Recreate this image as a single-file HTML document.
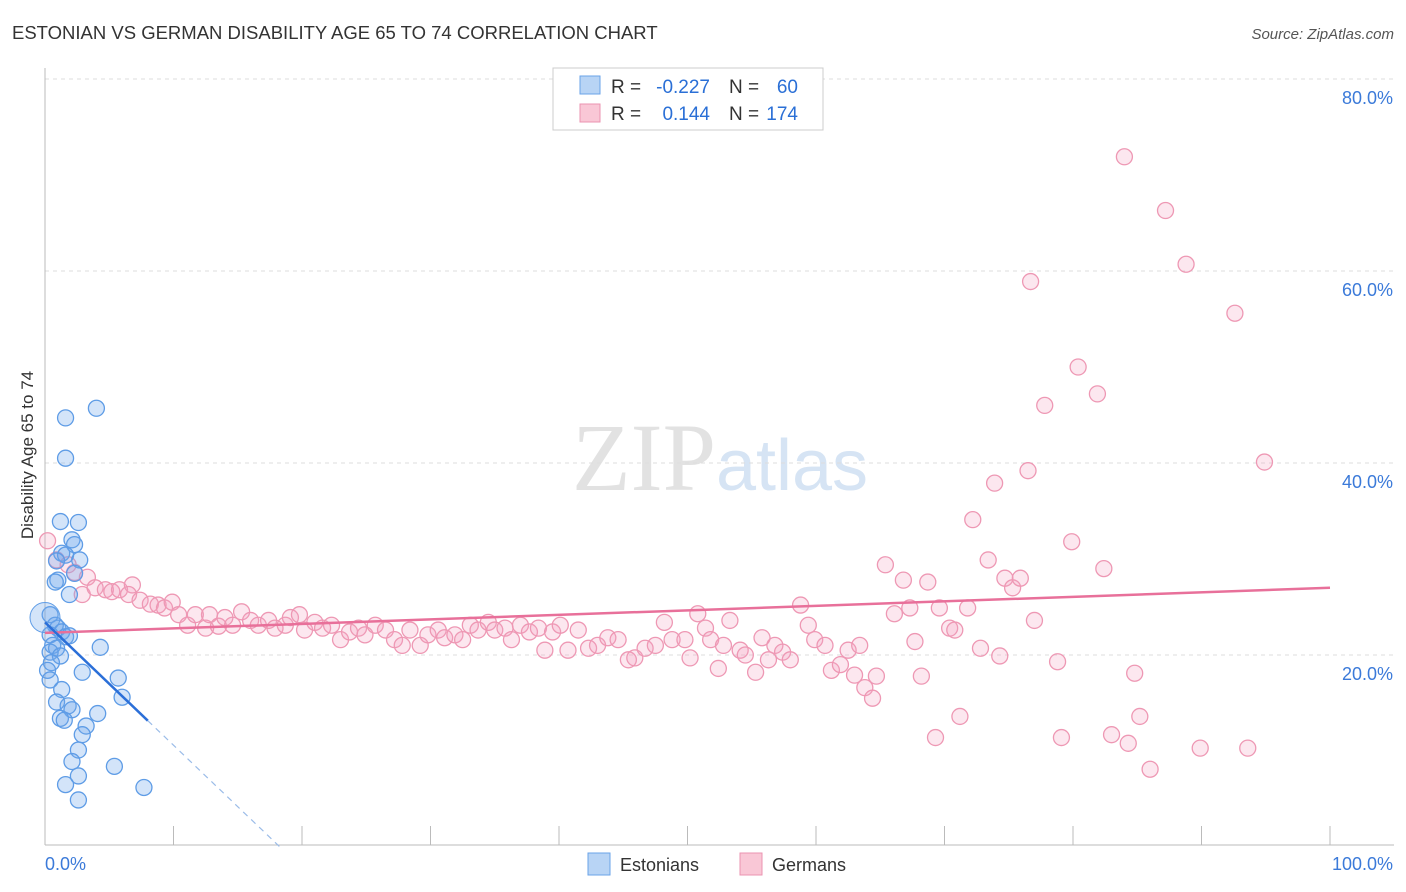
<!DOCTYPE html>
<html><head><meta charset="utf-8">
<style>
body{margin:0;background:#fff;font-family:"Liberation Sans",sans-serif;}
#wrap{position:relative;width:1406px;height:892px;overflow:hidden;}
</style></head>
<body>
<div id="wrap">
<svg id="svg" width="1406" height="892" xmlns="http://www.w3.org/2000/svg">
<text x="12" y="39" font-size="18.5" fill="#333">ESTONIAN VS GERMAN DISABILITY AGE 65 TO 74 CORRELATION CHART</text>
<text x="1394" y="39" font-size="15" fill="#555" font-style="italic" text-anchor="end">Source: ZipAtlas.com</text>
<text x="720" y="490" font-size="96" fill="#e2e2e2" text-anchor="middle" font-family="Liberation Serif">ZIP<tspan fill="#d6e4f4" font-family="Liberation Sans" font-size="72">atlas</tspan></text>
<g id="grid"></g>
<g id="marks"></g>
<text transform="translate(33,455) rotate(-90)" font-size="17" fill="#333" text-anchor="middle">Disability Age 65 to 74</text>
<g>
<rect x="553" y="68" width="270" height="62" fill="#fff" stroke="#ccc"/>
<rect x="580" y="76" width="20" height="18" fill="#b8d4f5" stroke="#6aa3e8"/>
<text x="611" y="93" font-size="19" fill="#333">R =</text>
<text x="710" y="93" font-size="19" fill="#2a6fd6" text-anchor="end">-0.227</text>
<text x="729" y="93" font-size="19" fill="#333">N =</text>
<text x="798" y="93" font-size="19" fill="#2a6fd6" text-anchor="end">60</text>
<rect x="580" y="104" width="20" height="18" fill="#f9c7d6" stroke="#eb93b0"/>
<text x="611" y="120" font-size="19" fill="#333">R =</text>
<text x="710" y="120" font-size="19" fill="#2a6fd6" text-anchor="end">0.144</text>
<text x="729" y="120" font-size="19" fill="#333">N =</text>
<text x="798" y="120" font-size="19" fill="#2a6fd6" text-anchor="end">174</text>
</g>
<g>
<rect x="588" y="853" width="22" height="22" fill="#b8d4f5" stroke="#6aa3e8"/>
<text x="620" y="871" font-size="18" fill="#333">Estonians</text>
<rect x="740" y="853" width="22" height="22" fill="#f9c7d6" stroke="#eb93b0"/>
<text x="772" y="871" font-size="18" fill="#333">Germans</text>
</g>
</svg>
</div>
<script>
const yTicks=[20,40,60,80];
const xTickLabels=["0.0%","100.0%"];
const estX=[4.0,1.6,1.6,1.2,2.6,2.1,2.3,1.3,1.6,2.7,0.9,2.3,1.0,0.8,1.9,0.4,0.8,1.0,1.3,0.4,1.6,1.9,0.6,0.9,4.3,0.4,1.2,0.5,0.2,2.9,0.4,5.7,1.3,6.0,0.9,1.8,2.1,4.1,1.2,1.5,3.2,2.9,2.6,2.1,5.4,2.6,1.6,2.6,7.7];
const estY=[45.7,44.7,40.5,33.9,33.8,32.0,31.5,30.6,30.4,29.9,29.8,28.5,27.8,27.6,26.3,24.2,23.1,22.8,22.4,22.1,21.9,22.0,21.0,20.7,20.8,20.3,19.9,19.2,18.4,18.2,17.4,17.6,16.4,15.6,15.1,14.7,14.3,13.9,13.4,13.2,12.6,11.7,10.1,8.9,8.4,7.4,6.5,4.9,6.2];
const gerX=[0.2,0.9,1.8,2.3,3.3,2.9,3.9,4.7,5.2,5.8,6.8,6.5,7.4,8.2,8.8,9.3,9.9,10.4,11.1,11.7,12.5,12.8,13.5,14.0,14.6,15.3,16.0,16.6,17.4,17.9,18.7,19.1,19.8,20.2,21.0,21.6,22.3,23.0,23.7,24.4,24.9,25.7,26.5,27.2,27.8,28.4,29.2,29.8,30.6,31.1,31.9,32.5,33.1,33.7,34.5,35.0,35.8,36.3,37.0,37.7,38.4,38.9,39.5,40.1,40.7,41.5,42.3,43.0,43.8,44.6,45.4,45.9,46.7,47.5,48.2,48.8,49.8,50.2,50.8,51.4,51.8,52.4,52.8,53.3,54.1,54.5,55.3,55.8,56.3,56.8,57.4,58.0,58.8,59.4,59.9,60.7,61.2,61.9,62.5,63.0,63.4,63.8,64.4,64.7,65.4,66.1,66.8,67.3,67.7,68.2,68.7,69.3,69.6,70.4,70.8,71.2,71.8,72.2,72.8,73.4,73.9,74.3,74.7,75.3,75.9,76.5,76.7,77.0,77.8,78.8,79.1,79.9,80.4,81.9,82.4,83.0,84.0,84.3,84.8,85.2,86.0,87.2,88.8,89.9,92.6,93.6,94.9];
const gerY=[31.9,29.9,29.4,28.6,28.1,26.3,27.0,26.8,26.6,26.8,27.3,26.3,25.7,25.3,25.2,24.9,25.5,24.2,23.1,24.2,22.8,24.2,23.0,23.9,23.1,24.5,23.6,23.1,23.6,22.8,23.1,23.9,24.2,22.6,23.4,22.8,23.1,21.6,22.4,22.8,22.1,23.1,22.6,21.6,21.0,22.6,21.0,22.1,22.6,21.8,22.1,21.6,23.1,22.6,23.4,22.6,22.8,21.6,23.1,22.4,22.8,20.5,22.4,23.1,20.5,22.6,20.7,21.0,21.8,21.6,19.5,19.7,20.7,21.0,23.4,21.6,21.6,19.7,24.3,22.8,21.6,18.6,21.0,23.6,20.5,20.0,18.2,21.8,19.5,21.0,20.3,19.5,25.2,23.1,21.6,21.0,18.4,19.0,20.5,17.9,21.0,16.6,15.5,17.8,29.4,24.3,27.8,24.9,21.4,17.8,27.6,11.4,24.9,22.8,22.6,13.6,24.9,34.1,20.7,29.9,37.9,19.9,28.0,27.0,28.0,39.2,58.9,23.6,46.0,19.3,11.4,31.8,50.0,47.2,29.0,11.7,71.9,10.8,18.1,13.6,8.1,66.3,60.7,10.3,55.6,10.3,40.1];
const estTrend=[23.4,-1.28];
const gerTrend=[22.3,0.047];

const X0=45,X1=1330,Y0=847,YS=9.6;
const sx=v=>X0+(X1-X0)*v/100;
const sy=v=>Y0-v*YS;
const NS='http://www.w3.org/2000/svg';
function mk(tag,attrs,parent){const e=document.createElementNS(NS,tag);for(const k in attrs)e.setAttribute(k,attrs[k]);parent.appendChild(e);return e;}
const grid=document.getElementById('grid'),marks=document.getElementById('marks');
yTicks.forEach(t=>{
 const l=mk('line',{x1:45,x2:1394,y1:sy(t),y2:sy(t),stroke:'#ddd','stroke-dasharray':'4,4'},grid);
 
 
 const tx=mk('text',{x:1393,y:sy(t)+25,'font-size':18,fill:'#3b7ad9','text-anchor':'end'},grid);
 tx.textContent=t.toFixed(1)+'%';
 
 
});
const ax=mk('line',{x1:45,x2:45,y1:68,y2:845,stroke:'#bbb'},grid);


const bx=mk('line',{x1:45,x2:1394,y1:845,y2:845,stroke:'#bbb'},grid);


for(let i=0;i<=10;i++){const t=mk('line',{x1:sx(i*10),x2:sx(i*10),y1:826,y2:845,stroke:'#bbb'},grid);
 
 }
[[0,'start',45],[1,'end',1393]].forEach(([i,a,x])=>{const t=mk('text',{x:x,y:870,'font-size':18,fill:'#3b7ad9','text-anchor':a},grid);t.textContent=xTickLabels[i];
 
 });
gerX.forEach((v,i)=>{const c=mk('circle',{cx:sx(v),cy:sy(gerY[i]),r:8,fill:'rgba(244,160,190,0.25)',stroke:'#ee98b4','stroke-width':1.3},marks);
 
 });
estX.forEach((v,i)=>{const c=mk('circle',{cx:sx(v),cy:sy(estY[i]),r:8,fill:'rgba(110,165,235,0.3)',stroke:'#5e9ce6','stroke-width':1.3},marks);
 
 });
const big=mk('circle',{cx:sx(0),cy:sy(23.9),r:15,fill:'rgba(110,165,235,0.3)',stroke:'#5e9ce6'},marks);


const gl=mk('line',{x1:sx(0),y1:sy(gerTrend[0]),x2:sx(100),y2:sy(gerTrend[0]+gerTrend[1]*100),stroke:'#e8709a','stroke-width':2.5},marks);


const el=mk('line',{x1:sx(0),y1:sy(estTrend[0]),x2:sx(8),y2:sy(estTrend[0]+estTrend[1]*8),stroke:'#2b6fd8','stroke-width':2.5},marks);


const xEnd=-estTrend[0]/estTrend[1];
const ed=mk('line',{x1:sx(8),y1:sy(estTrend[0]+estTrend[1]*8),x2:sx(xEnd),y2:sy(0),stroke:'#9bbce8','stroke-width':1.2,'stroke-dasharray':'6,5'},marks);


</script>
</body></html>
